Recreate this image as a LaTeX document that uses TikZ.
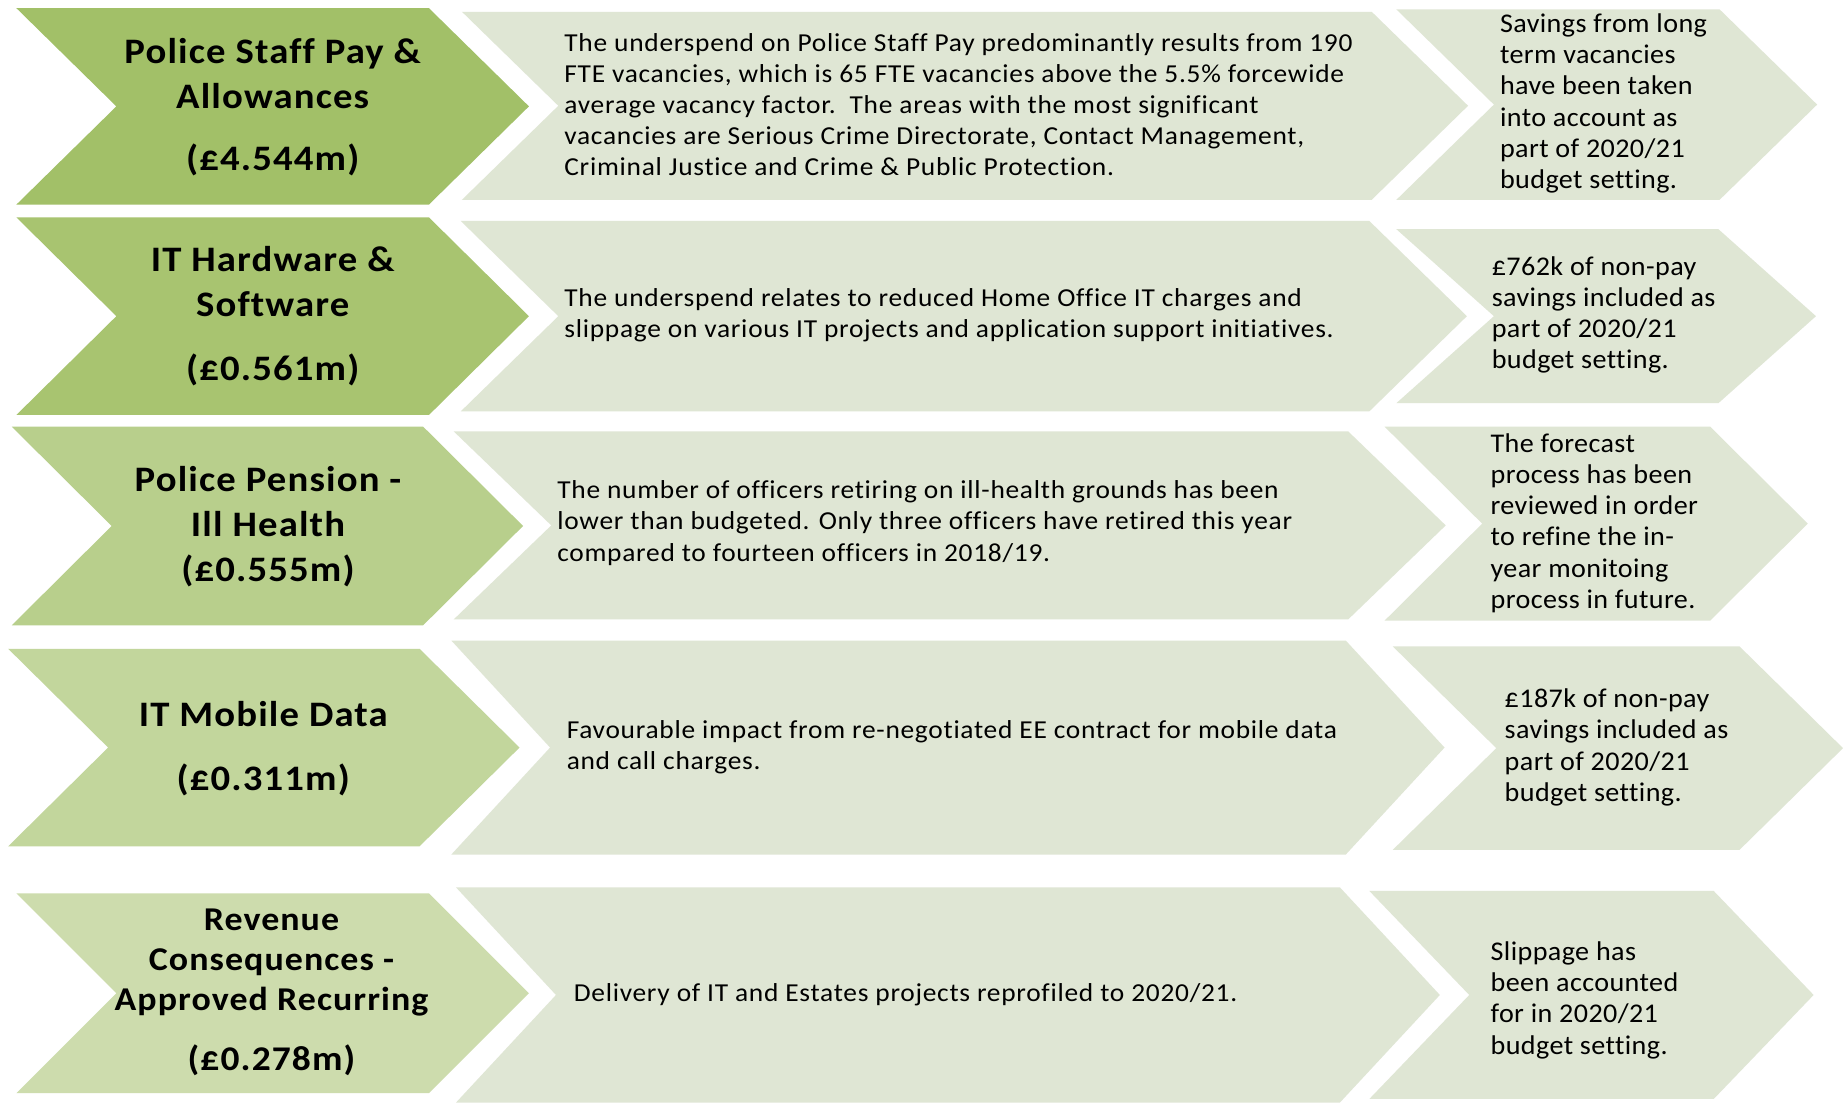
\documentclass[tikz,border=0pt]{standalone}
\usepackage{fontspec}
\setmainfont[Ligatures=NoCommon]{Carlito}
\newfontfamily\headfont[FakeStretch=1.08, LetterSpace=3.2, Ligatures=NoCommon]{Carlito}
\newfontfamily\bodyfont[FakeStretch=1.06, LetterSpace=2.8, Ligatures=NoCommon]{Carlito}
\newfontfamily\notefont[FakeStretch=1.04, LetterSpace=1.5, Ligatures=NoCommon]{Carlito}
\definecolor{gA}{RGB}{162,192,104}
\definecolor{gB}{RGB}{168,196,112}
\definecolor{gC}{RGB}{184,207,140}
\definecolor{gD}{RGB}{194,214,156}
\definecolor{gE}{RGB}{205,220,173}
\definecolor{pale}{RGB}{223,230,212}
\newcommand\chevshape[6]{% left, right, top, bottom, point depth, colour
  \fill[#6] (#1,#3) -- (#2,#3) -- ({#2+#5},{(#3+#4)/2}) -- (#2,#4) -- (#1,#4)
    -- ({#1+#5},{(#3+#4)/2}) -- cycle;}
\begin{document}
\begin{tikzpicture}[x=1pt,y=-1pt,
  head/.style={font=\headfont\bfseries\fontsize{30.5}{38}\selectfont, align=center, inner sep=0pt, text=black},
  body/.style={font=\bodyfont\fontsize{22}{26.5}\selectfont, align=left, anchor=west, inner sep=0pt, text=black},
  note/.style={font=\notefont\fontsize{23}{26.6}\selectfont, align=left, anchor=west, inner sep=0pt, text=black}]
\useasboundingbox (0,0) rectangle (1568,944);
\fill[white] (0,0) rectangle (1568,944);

% row 1
\chevshape{14}{365}{7}{174}{85}{gA}
\chevshape{393}{1167}{10}{170}{82}{pale}
\chevshape{1188}{1463}{8}{170}{83}{pale}
% row 2
\chevshape{14}{365}{185}{353}{85}{gB}
\chevshape{392}{1165}{188}{350}{83}{pale}
\chevshape{1188}{1462}{195}{343}{83}{pale}
% row 3
\chevshape{10}{360}{363}{532}{85}{gC}
\chevshape{386}{1147}{367}{527}{83}{pale}
\chevshape{1178}{1455}{363}{528}{83}{pale}
% row 4
\chevshape{7}{357}{552}{720}{85}{gD}
\chevshape{384}{1145}{545}{727}{84}{pale}
\chevshape{1185}{1480}{550}{723}{88}{pale}
% row 5
\chevshape{14}{365}{760}{930}{85}{gE}
\chevshape{388}{1140}{755}{938}{85}{pale}
\chevshape{1165}{1458}{758}{935}{85}{pale}

% headings
\node[head] (h1) at (232,91) {Police Staff Pay \&\\Allowances\\[15pt](£4.544m)};
\node[head] (h2) at (232,269) {IT Hardware \&\\Software\\[16pt](£0.561m)};
\node[head] (h3) at (228,448) {Police Pension -\\Ill Health\\(£0.555m)};
\node[head] (h4) at (224,637) {IT Mobile Data\\[16pt](£0.311m)};
\node[head, font=\headfont\bfseries\fontsize{28.3}{34}\selectfont] (h5) at (231,844) {Revenue\\Consequences -\\Approved Recurring\\[17pt]{\fontsize{29.5}{34}\selectfont(£0.278m)}};

% explanations
\node[body] (d1) at (480,89) {The underspend on Police Staff Pay predominantly results from 190\\FTE vacancies, which is 65 FTE vacancies above the 5.5\% forcewide\\average vacancy factor.\ \ The areas with the most significant\\vacancies are Serious Crime Directorate, Contact Management,\\Criminal Justice and Crime \& Public Protection.};
\node[body] (d2) at (480,268) {The underspend relates to reduced Home Office IT charges and\\slippage on various IT projects and application support initiatives.};
\node[body] (d3) at (474,445) {The number of officers retiring on ill-health grounds has been\\lower than budgeted. Only three officers have retired this year\\compared to fourteen officers in 2018/19.};
\node[body] (d4) at (482,636) {Favourable impact from re-negotiated EE contract for mobile data\\and call charges.};
\node[body] (d5) at (488,846) {Delivery of IT and Estates projects reprofiled to 2020/21.};

% budget notes
\node[note] (n1) at (1276,88) {Savings from long\\term vacancies\\have been taken\\into account as\\part of 2020/21\\budget setting.};
\node[note] (n2) at (1269,268) {£762k of non-pay\\savings included as\\part of 2020/21\\budget setting.};
\node[note] (n3) at (1268,445) {The forecast\\process has been\\reviewed in order\\to refine the in-\\year monitoing\\process in future.};
\node[note] (n4) at (1280,636) {£187k of non-pay\\savings included as\\part of 2020/21\\budget setting.};
\node[note] (n5) at (1268,851) {Slippage has\\been accounted\\for in 2020/21\\budget setting.};
\end{tikzpicture}
\end{document}
